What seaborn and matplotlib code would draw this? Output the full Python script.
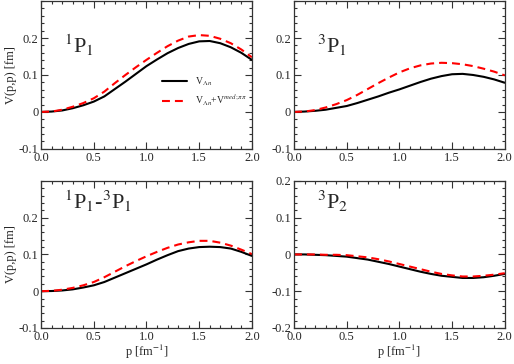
import numpy as np
import pandas as pd
import matplotlib
matplotlib.use('Agg')
import matplotlib.pyplot as plt
from matplotlib.ticker import MultipleLocator, FuncFormatter
import seaborn as sns

sns.set_theme(style='ticks')
plt.rcParams['font.family'] = ['Liberation Serif', 'DejaVu Serif']
plt.rcParams['mathtext.fontset'] = 'stix'
plt.rcParams['axes.unicode_minus'] = False

# momentum grid p [fm^-1]
p = [0.0, 0.1, 0.2, 0.3, 0.4, 0.5, 0.6, 0.7, 0.8, 0.9, 1.0,
     1.1, 1.2, 1.3, 1.4, 1.5, 1.6, 1.7, 1.8, 1.9, 2.0]

# 1P1
v1p1 = [0.0, 0.001, 0.004, 0.010, 0.018, 0.028, 0.042, 0.062, 0.082, 0.103, 0.124,
        0.142, 0.159, 0.173, 0.184, 0.191, 0.192, 0.186, 0.175, 0.160, 0.141]
v1p1_med = [0.0, 0.001, 0.006, 0.014, 0.024, 0.037, 0.055, 0.078, 0.100, 0.121, 0.141,
            0.160, 0.178, 0.193, 0.204, 0.208, 0.206, 0.198, 0.186, 0.169, 0.148]
# 3P1
v3p1 = [0.0, 0.001, 0.003, 0.006, 0.011, 0.016, 0.024, 0.033, 0.042, 0.052, 0.061,
        0.071, 0.081, 0.090, 0.097, 0.102, 0.103, 0.100, 0.095, 0.088, 0.079]
v3p1_med = [0.0, 0.001, 0.005, 0.012, 0.021, 0.032, 0.046, 0.062, 0.078, 0.093, 0.107,
            0.118, 0.126, 0.131, 0.133, 0.132, 0.129, 0.124, 0.117, 0.109, 0.099]
# 1P1-3P1
vmix = [0.0, 0.0005, 0.002, 0.005, 0.010, 0.016, 0.025, 0.037, 0.049, 0.061, 0.073,
        0.086, 0.098, 0.109, 0.116, 0.120, 0.121, 0.120, 0.116, 0.107, 0.096]
vmix_med = [0.0, 0.001, 0.004, 0.009, 0.016, 0.025, 0.038, 0.053, 0.068, 0.082, 0.095,
            0.107, 0.118, 0.127, 0.133, 0.137, 0.137, 0.132, 0.124, 0.113, 0.101]
# 3P2
v3p2 = [0.0, 0.0, -0.001, -0.002, -0.004, -0.006, -0.010, -0.014, -0.020, -0.026, -0.033,
        -0.040, -0.047, -0.053, -0.058, -0.061, -0.064, -0.064, -0.062, -0.058, -0.053]
v3p2_med = [0.0, 0.0, 0.0, -0.001, -0.001, -0.002, -0.005, -0.008, -0.013, -0.019, -0.026,
            -0.033, -0.040, -0.047, -0.053, -0.057, -0.060, -0.060, -0.058, -0.055, -0.051]

panels = [
    (r'$^1$P$_1$', v1p1, v1p1_med, (-0.1, 0.3), [-0.1, 0.0, 0.1, 0.2]),
    (r'$^3$P$_1$', v3p1, v3p1_med, (-0.1, 0.3), [-0.1, 0.0, 0.1, 0.2]),
    (r'$^1$P$_1$-$^3$P$_1$', vmix, vmix_med, (-0.1, 0.3), [-0.1, 0.0, 0.1, 0.2]),
    (r'$^3$P$_2$', v3p2, v3p2_med, (-0.2, 0.2), [-0.2, -0.1, 0.0, 0.1, 0.2]),
]

fig = plt.figure(figsize=(5.14, 3.64), dpi=100)
rects = [
    [0.080, 0.591, 0.410, 0.406],
    [0.572, 0.591, 0.410, 0.406],
    [0.080, 0.099, 0.410, 0.404],
    [0.572, 0.099, 0.410, 0.404],
]
label_y = [0.65, 0.65, 0.81, 0.81]

fmt = FuncFormatter(lambda v, pos: '0' if abs(v) < 1e-9 else f'{v:.1f}')

for i, (name, base, med, ylim, yt) in enumerate(panels):
    ax = fig.add_axes(rects[i])
    df = pd.DataFrame({'p': p, 'base': base, 'med': med})
    sns.lineplot(data=df, x='p', y='base', ax=ax, color='black', lw=1.5,
                 label=r'V$_{\Lambda n}$')
    sns.lineplot(data=df, x='p', y='med', ax=ax, color='#ff0000', lw=1.5,
                 linestyle=(0, (3.8, 2.4)),
                 label=r'V$_{\Lambda n}$+V$^{med;\pi\pi}$')
    ax.set_xlim(0, 2.0)
    ax.set_ylim(*ylim)
    ax.set_xticks([0.0, 0.5, 1.0, 1.5, 2.0])
    ax.set_yticks(yt)
    ax.xaxis.set_minor_locator(MultipleLocator(0.1))
    ax.yaxis.set_minor_locator(MultipleLocator(0.02))
    ax.xaxis.set_major_formatter(FuncFormatter(lambda v, pos: f'{v:.1f}'))
    ax.yaxis.set_major_formatter(fmt)
    ax.tick_params(which='both', direction='in', top=True, right=True,
                   labelsize=9, pad=2, width=0.8, color='#333333')
    ax.tick_params(which='major', length=5)
    ax.tick_params(which='minor', length=2.5)
    for s in ax.spines.values():
        s.set_linewidth(0.9)
        s.set_color('#333333')
    ax.set_xlabel('')
    ax.set_ylabel('')
    if i in (0, 2):
        ax.set_ylabel('V(p,p) [fm]', fontsize=9, labelpad=1)
    if i in (2, 3):
        ax.set_xlabel(r'p [fm$^{-1}$]', fontsize=9, labelpad=0)
    ax.text(0.11, label_y[i], name, transform=ax.transAxes, fontsize=16,
            ha='left', va='baseline')
    if i == 0:
        ax.legend(loc='upper left', bbox_to_anchor=(0.54, 0.54), frameon=False,
                  fontsize=7, handlelength=2.6, labelspacing=0.5,
                  borderpad=0.2, handletextpad=0.8)
    else:
        ax.get_legend().remove()

fig.savefig('out.png', dpi=100)
